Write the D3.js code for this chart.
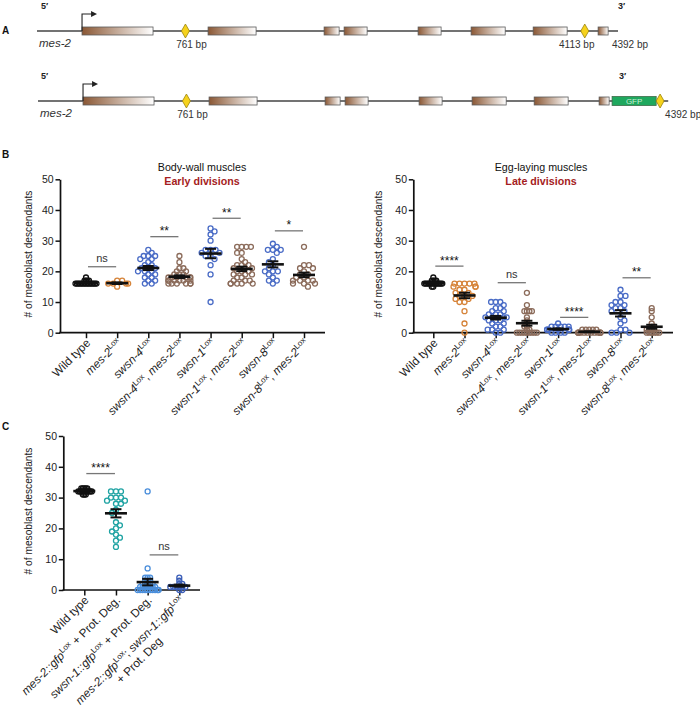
<!DOCTYPE html>
<html><head><meta charset="utf-8">
<script src="https://cdn.jsdelivr.net/npm/d3@7"></script>
<style>
body{margin:0;background:#fff}
svg{display:block}
text{font-family:"Liberation Sans",Arial,Helvetica,sans-serif}
</style>
</head><body>
<svg id="fig" width="700" height="707"></svg>
<script>
// ================= DATA =================
// Panel A: gene schematic (positions in bp along the mes-2 locus)
const geneStartBp = -485;
const exonsBp = [[-107,489],[951,1354],[1925,2051],[2093,2286],[2714,2907],[3159,3445],[3680,3965],[4225,4309]];
const loxRow1 = [761, 4113];
const loxRow1Labels = ["761 bp", "4113 bp"];
const endRow1 = 4392;
const gfpBp = [4334, 4704];
const loxRow2 = [761, 4737];
const endRow2 = 4805;
const endLabel = "4392 bp";

// Panel B categories (rich labels: i = italic, s = superscript)
const labelsB = [
  [[["Wild type",""]]],
  [[["mes-2","i"],["Lox","s"]]],
  [[["swsn-4","i"],["Lox","s"]]],
  [[["swsn-4","i"],["Lox","s"],[", ",""],["mes-2","i"],["Lox","s"]]],
  [[["swsn-1","i"],["Lox","s"]]],
  [[["swsn-1","i"],["Lox","s"],[", ",""],["mes-2","i"],["Lox","s"]]],
  [[["swsn-8","i"],["Lox","s"]]],
  [[["swsn-8","i"],["Lox","s"],[", ",""],["mes-2","i"],["Lox","s"]]]
];
const labelsC = [
  [[["Wild type",""]]],
  [[["mes-2::gfp","i"],["Lox","s"],[" + Prot. Deg.",""]]],
  [[["swsn-1::gfp","i"],["Lox","s"],[" + Prot. Deg.",""]]],
  [[["mes-2::gfp","i"],["Lox","s"],["; ",""],["swsn-1::gfp","i"],["Lox","s"]],[["+ Prot. Deg",""]]]
];
const yTicks = [0,10,20,30,40,50];

// Body-wall muscles (early divisions)
const bodyWall = [
  [18,17,17,17,17,16,16,16,16,16,16,16,16,16,16,16,16,16,16,16],
  [17,17,16,16,16,16,15],
  [27,26,25,25,25,24,24,23,22,22,21,21,21,20,20,20,19,19,18,18,17,17,16,16],
  [25,23,21,21,20,20,19,19,19,18,18,18,18,18,17,17,17,17,17,16,16,16,16,16,16,17,18],
  [34,33,32,30,27,27,27,26,26,25,25,24,22,19,10],
  [28,28,28,28,26,26,22,24,23,22,22,21,21,21,20,20,20,19,19,19,18,18,17,17,17,16,16,16,16,16],
  [29,28,27,27,27,26,20,24,23,22,21,20,19,18,17,17,16,20],
  [28,22,22,21,21,20,17,19,19,18,18,17,17,17,16,16,15,16]
];
// Egg-laying muscles (late divisions)
const eggLaying = [
  [18,17,17,17,16,16,16,16,16,16,16,16,16,16,15,15,16,16,17,16],
  [16,16,16,16,16,15,15,15,14,14,13,13,12,12,12,11,11,10,10,7,3,0],
  [10,10,10,9,8,8,7,7,6,6,6,5,5,5,5,4,4,4,3,3,2,2,1,1,1,0,0],
  [13,9,7,7,7,7,5,4,3,2,2,1,1,0,0,0,0,0,0,0,0,0],
  [3,2,2,2,2,1,1,1,1,1,1,0,0,0,0,1,2],
  [1,1,1,1,1,0,0,0,0,0,0,0,0,0,0,0,0],
  [14,12,12,10,10,9,9,8,7,7,5,4,3,1,8,0,0,0,1],
  [8,7,5,3,2,2,1,1,1,1,0,0,0,0,0,0]
];
// Panel C (protein degradation)
const protDeg = [
  [33,33,33,33,33,32,32,32,32,32,32,32,32,31,31,31,32,32],
  [32,32,32,30,30,30,29,29,28,28,26,25,22,21,19,17,16,14,20,18],
  [32,7,4,4,4,3,3,3,2,2,2,2,1,1,1,1,1,0,0,0,0,0,0,0,0,0,1,2,1,0],
  [4,3,2,1,1,1,1,0,0,1,2,1]
];
// Significance: [group i, group j, bar height (value), label]
const sigBodyWall = [[0,1,21.5,"ns"],[2,3,31.3,"**"],[4,5,37.3,"**"],[6,7,33.2,"*"]];
const sigEggLaying = [[0,1,21.7,"****"],[2,3,16.3,"ns"],[4,5,5.0,"****"],[6,7,17.9,"**"]];
const sigProtDeg = [[0,1,37.8,"****"],[2,3,11.4,"ns"]];

// ================= STYLE =================
const C_BLK="#111", C_OR="#d6843a", C_BL="#4a6cc6", C_BR="#8b6b5a";
const LABEL_FS = 11.7, SUP_FS = 8;
const svg = d3.select("#fig");
const defs = svg.append("defs");
const grad = defs.append("linearGradient").attr("id","exonGrad");
grad.append("stop").attr("offset","0%").attr("stop-color","#8a5734");
grad.append("stop").attr("offset","100%").attr("stop-color","#ffffff");

// ================= PANEL A =================
const xA = d3.scaleLinear().domain([geneStartBp, endRow1]).range([37, 618]);
function geneRow(yc, dx, lox, endBp, withGfp){
  const g = svg.append("g").attr("transform",`translate(${dx},0)`);
  g.append("line").attr("x1",xA(geneStartBp)).attr("x2",xA(endBp)).attr("y1",yc).attr("y2",yc)
    .attr("stroke","#444").attr("stroke-width",1.3);
  g.selectAll("rect.ex").data(exonsBp).join("rect").attr("class","ex")
    .attr("x",d=>xA(d[0])).attr("width",d=>xA(d[1])-xA(d[0]))
    .attr("y",yc-4).attr("height",8).attr("fill","url(#exonGrad)")
    .attr("stroke","#5a5a5a").attr("stroke-width",0.8);
  if(withGfp){
    g.append("rect").attr("x",xA(gfpBp[0])).attr("width",xA(gfpBp[1])-xA(gfpBp[0]))
      .attr("y",yc-4.5).attr("height",9).attr("fill","#1fa85e").attr("stroke","#3d6b4a").attr("stroke-width",0.8);
    g.append("text").attr("x",(xA(gfpBp[0])+xA(gfpBp[1]))/2).attr("y",yc+3)
      .attr("text-anchor","middle").attr("font-size",8).attr("fill","#c9efd4").text("GFP");
  }
  g.selectAll("path.lox").data(lox).join("path").attr("class","lox")
    .attr("d",d=>`M${xA(d)},${yc-7}L${xA(d)+4},${yc}L${xA(d)},${yc+7}L${xA(d)-4},${yc}Z`)
    .attr("fill","#f6d21c").attr("stroke","#9a8410").attr("stroke-width",0.8);
  // promoter arrow
  const px = xA(exonsBp[0][0]);
  g.append("path").attr("d",`M${px},${yc}V${yc-17}H${px+10}`).attr("fill","none").attr("stroke","#222").attr("stroke-width",1.1);
  g.append("path").attr("d",`M${px+9},${yc-20}L${px+15},${yc-17}L${px+9},${yc-14}Z`).attr("fill","#222");
  g.append("text").attr("x",xA(geneStartBp)+2).attr("y",yc+16).attr("font-size",11.5).attr("font-style","italic").attr("fill","#333").text("mes-2");
  return g;
}
const r1 = geneRow(31,0,loxRow1,endRow1,false);
const r2 = geneRow(101,1,loxRow2,endRow2,true);
r1.selectAll("text.bp").data(loxRow1).join("text").attr("class","bp")
  .attr("x",(d,i)=>xA(d)+(i===0?6:-8)).attr("y",48).attr("text-anchor","middle").attr("font-size",10).attr("fill","#333")
  .text((d,i)=>loxRow1Labels[i]);
r1.append("text").attr("x",xA(endRow1)+12).attr("y",48).attr("text-anchor","middle").attr("font-size",10).attr("fill","#333").text(endLabel);
r2.append("text").attr("x",xA(loxRow2[0])+6).attr("y",118).attr("text-anchor","middle").attr("font-size",10).attr("fill","#333").text(loxRow1Labels[0]);
r2.append("text").attr("x",xA(loxRow2[1])+5).attr("y",118).attr("font-size",10).attr("fill","#333").text(endLabel);
const primes = [[41,9,"5′"],[618,9,"3′"],[41,79,"5′"],[619,79,"3′"]];
svg.selectAll("text.pr").data(primes).join("text").attr("class","pr").attr("x",d=>d[0]).attr("y",d=>d[1])
  .attr("font-size",9).attr("font-weight","bold").attr("fill","#222").text(d=>d[2]);
svg.selectAll("text.pl").data([["A",34],["B",158],["C",430]]).join("text").attr("class","pl")
  .attr("x",2).attr("y",d=>d[1]).attr("font-size",10).attr("font-weight","bold").attr("fill","#111").text(d=>d[0]);

// ================= SCATTER CHARTS =================
function swarm(vals, y, D, maxHalf){
  const pts = vals.map(v=>({v, py:y(v), dx:0}));
  const order = pts.slice().sort((a,b)=>a.py-b.py);
  const placed = []; let bal = 0;
  for(const p of order){
    const near = placed.filter(q=>Math.abs(q.py-p.py)<D);
    const cands=[0];
    for(const q of near){ const h=Math.sqrt(D*D-(q.py-p.py)**2); cands.push(q.dx+h, q.dx-h); }
    const ok = cands.filter(c=>near.every(q=>(q.dx-c)**2+(q.py-p.py)**2>=D*D-1e-6));
    ok.sort((a,b)=>(Math.abs(a)-Math.abs(b))||(bal>0?a-b:b-a));
    let c = ok.length?ok[0]:0;
    c = Math.max(-maxHalf, Math.min(maxHalf, c));
    p.dx=c; bal+=Math.sign(c); placed.push(p);
  }
  return pts;
}
function richText(sel, segs){
  let shift=0;
  segs.forEach(([t,k])=>{
    const ts = sel.append("tspan").text(t);
    if(k==="i") ts.attr("font-style","italic");
    if(k==="s"){ ts.attr("font-size",SUP_FS).attr("dy",-4.2); shift=4.2; }
    else if(shift){ ts.attr("dy",shift); shift=0; }
  });
}
function chart(cfg){
  const g = svg.append("g");
  const x = d3.scalePoint().domain(d3.range(cfg.values.length)).range(cfg.xr);
  const y = d3.scaleLinear().domain([0,50]).range(cfg.yr);
  // axes
  const ya = g.append("g").attr("transform",`translate(${cfg.x0},0)`)
    .call(d3.axisLeft(y).tickValues(yTicks).tickSize(4.5).tickPadding(1.8).tickSizeOuter(0));
  ya.select(".domain").attr("stroke","#111").attr("stroke-width",1.7);
  ya.selectAll(".tick line").attr("stroke","#111").attr("stroke-width",1.5);
  ya.selectAll(".tick text").attr("font-size",10.5).attr("fill","#222").attr("font-family","Liberation Sans, Arial, sans-serif");
  const xa = g.append("g").attr("transform",`translate(0,${y(0)})`)
    .call(d3.axisBottom(x).tickSize(5.5).tickFormat(""));
  xa.select(".domain").remove();
  xa.selectAll(".tick line").attr("stroke","#111").attr("stroke-width",1.5);
  g.append("line").attr("x1",cfg.x0-0.8).attr("x2",cfg.x1).attr("y1",y(0)).attr("y2",y(0)).attr("stroke","#111").attr("stroke-width",1.7);
  // y label
  g.append("text").attr("transform",`translate(${cfg.ylx},${(y(0)+y(50))/2-2}) rotate(-90)`)
    .attr("text-anchor","middle").attr("font-size",10.2).attr("fill","#222").text("# of mesoblast descendants");
  // titles
  if(cfg.title){
    g.append("text").attr("x",cfg.tx).attr("y",171).attr("text-anchor","middle").attr("font-size",10.7).attr("fill","#111").text(cfg.title);
    g.append("text").attr("x",cfg.tx).attr("y",185).attr("text-anchor","middle").attr("font-size",10.7).attr("font-weight","bold").attr("fill","#a51d22").text(cfg.subtitle);
  }
  // points
  cfg.values.forEach((vals,i)=>{
    const pts = swarm(vals,y,cfg.D[i],11);
    g.append("g").selectAll("circle").data(pts).join("circle")
      .attr("cx",d=>x(i)+d.dx).attr("cy",d=>d.py).attr("r",2.5)
      .attr("fill","none").attr("stroke",cfg.colors[i]).attr("stroke-width",1.3);
  });
  // mean & SEM
  cfg.values.forEach((vals,i)=>{
    const m = d3.mean(vals), se = d3.deviation(vals)/Math.sqrt(vals.length);
    const cx = x(i);
    g.append("line").attr("x1",cx-11).attr("x2",cx+11).attr("y1",y(m)).attr("y2",y(m)).attr("stroke","#111").attr("stroke-width",2.6);
    g.append("line").attr("x1",cx).attr("x2",cx).attr("y1",y(m-se)).attr("y2",y(m+se)).attr("stroke","#111").attr("stroke-width",2);
    [m-se,m+se].forEach(v=>g.append("line").attr("x1",cx-5.5).attr("x2",cx+5.5).attr("y1",y(v)).attr("y2",y(v)).attr("stroke","#111").attr("stroke-width",2));
  });
  // significance
  cfg.sig.forEach(([a,b,v,lab])=>{
    const yy=y(v);
    g.append("line").attr("x1",x(a)+2).attr("x2",x(b)-1).attr("y1",yy).attr("y2",yy).attr("stroke","#777").attr("stroke-width",1.3);
    const isStar = lab.indexOf("*")>=0;
    g.append("text").attr("x",(x(a)+x(b))/2+0.5).attr("y",isStar?yy-1.5:yy-5).attr("text-anchor","middle")
      .attr("font-size",isStar?12:11).attr("fill",isStar?"#111":"#333").text(lab);
  });
  // x labels
  cfg.labels.forEach((lines,i)=>{
    const tr = `translate(${x(i)+5},${y(0)+11}) rotate(-45)`;
    const t1 = g.append("text").attr("transform",tr).attr("text-anchor","end").attr("font-size",LABEL_FS).attr("fill","#222").style("white-space","pre");
    richText(t1, lines[0]);
    if(lines.length>1){
      const L = t1.node().getComputedTextLength();
      const t2 = g.append("text").attr("transform",tr).attr("x",-L/2).attr("y",14).attr("text-anchor","middle").attr("font-size",LABEL_FS).attr("fill","#222").style("white-space","pre");
      richText(t2, lines[1]);
    }
  });
}
chart({values:bodyWall, labels:labelsB, x0:60, x1:325, xr:[86,304], yr:[332.7,179.3], ylx:32,
  colors:[C_BLK,C_OR,C_BL,C_BR,C_BL,C_BR,C_BL,C_BR], D:[1.5,5,4.6,4,5,4.6,5,5], sig:sigBodyWall,
  title:"Body-wall muscles", subtitle:"Early divisions", tx:202});
chart({values:eggLaying, labels:labelsB, x0:413.3, x1:673, xr:[433.3,651.7], yr:[332.7,179.3], ylx:382,
  colors:[C_BLK,C_OR,C_BL,C_BR,C_BL,C_BR,C_BL,C_BR], D:[1.5,5,4.6,2.5,4,3.5,5,2.5], sig:sigEggLaying,
  title:"Egg-laying muscles", subtitle:"Late divisions", tx:541});
chart({values:protDeg, labels:labelsC, x0:63.3, x1:200, xr:[84.3,179.3], yr:[590,436], ylx:32,
  colors:[C_BLK,"#1fa3a3","#4a8edb","#3c5fb8"], D:[1.5,5,2.5,3], sig:sigProtDeg});
</script>
</body></html>
